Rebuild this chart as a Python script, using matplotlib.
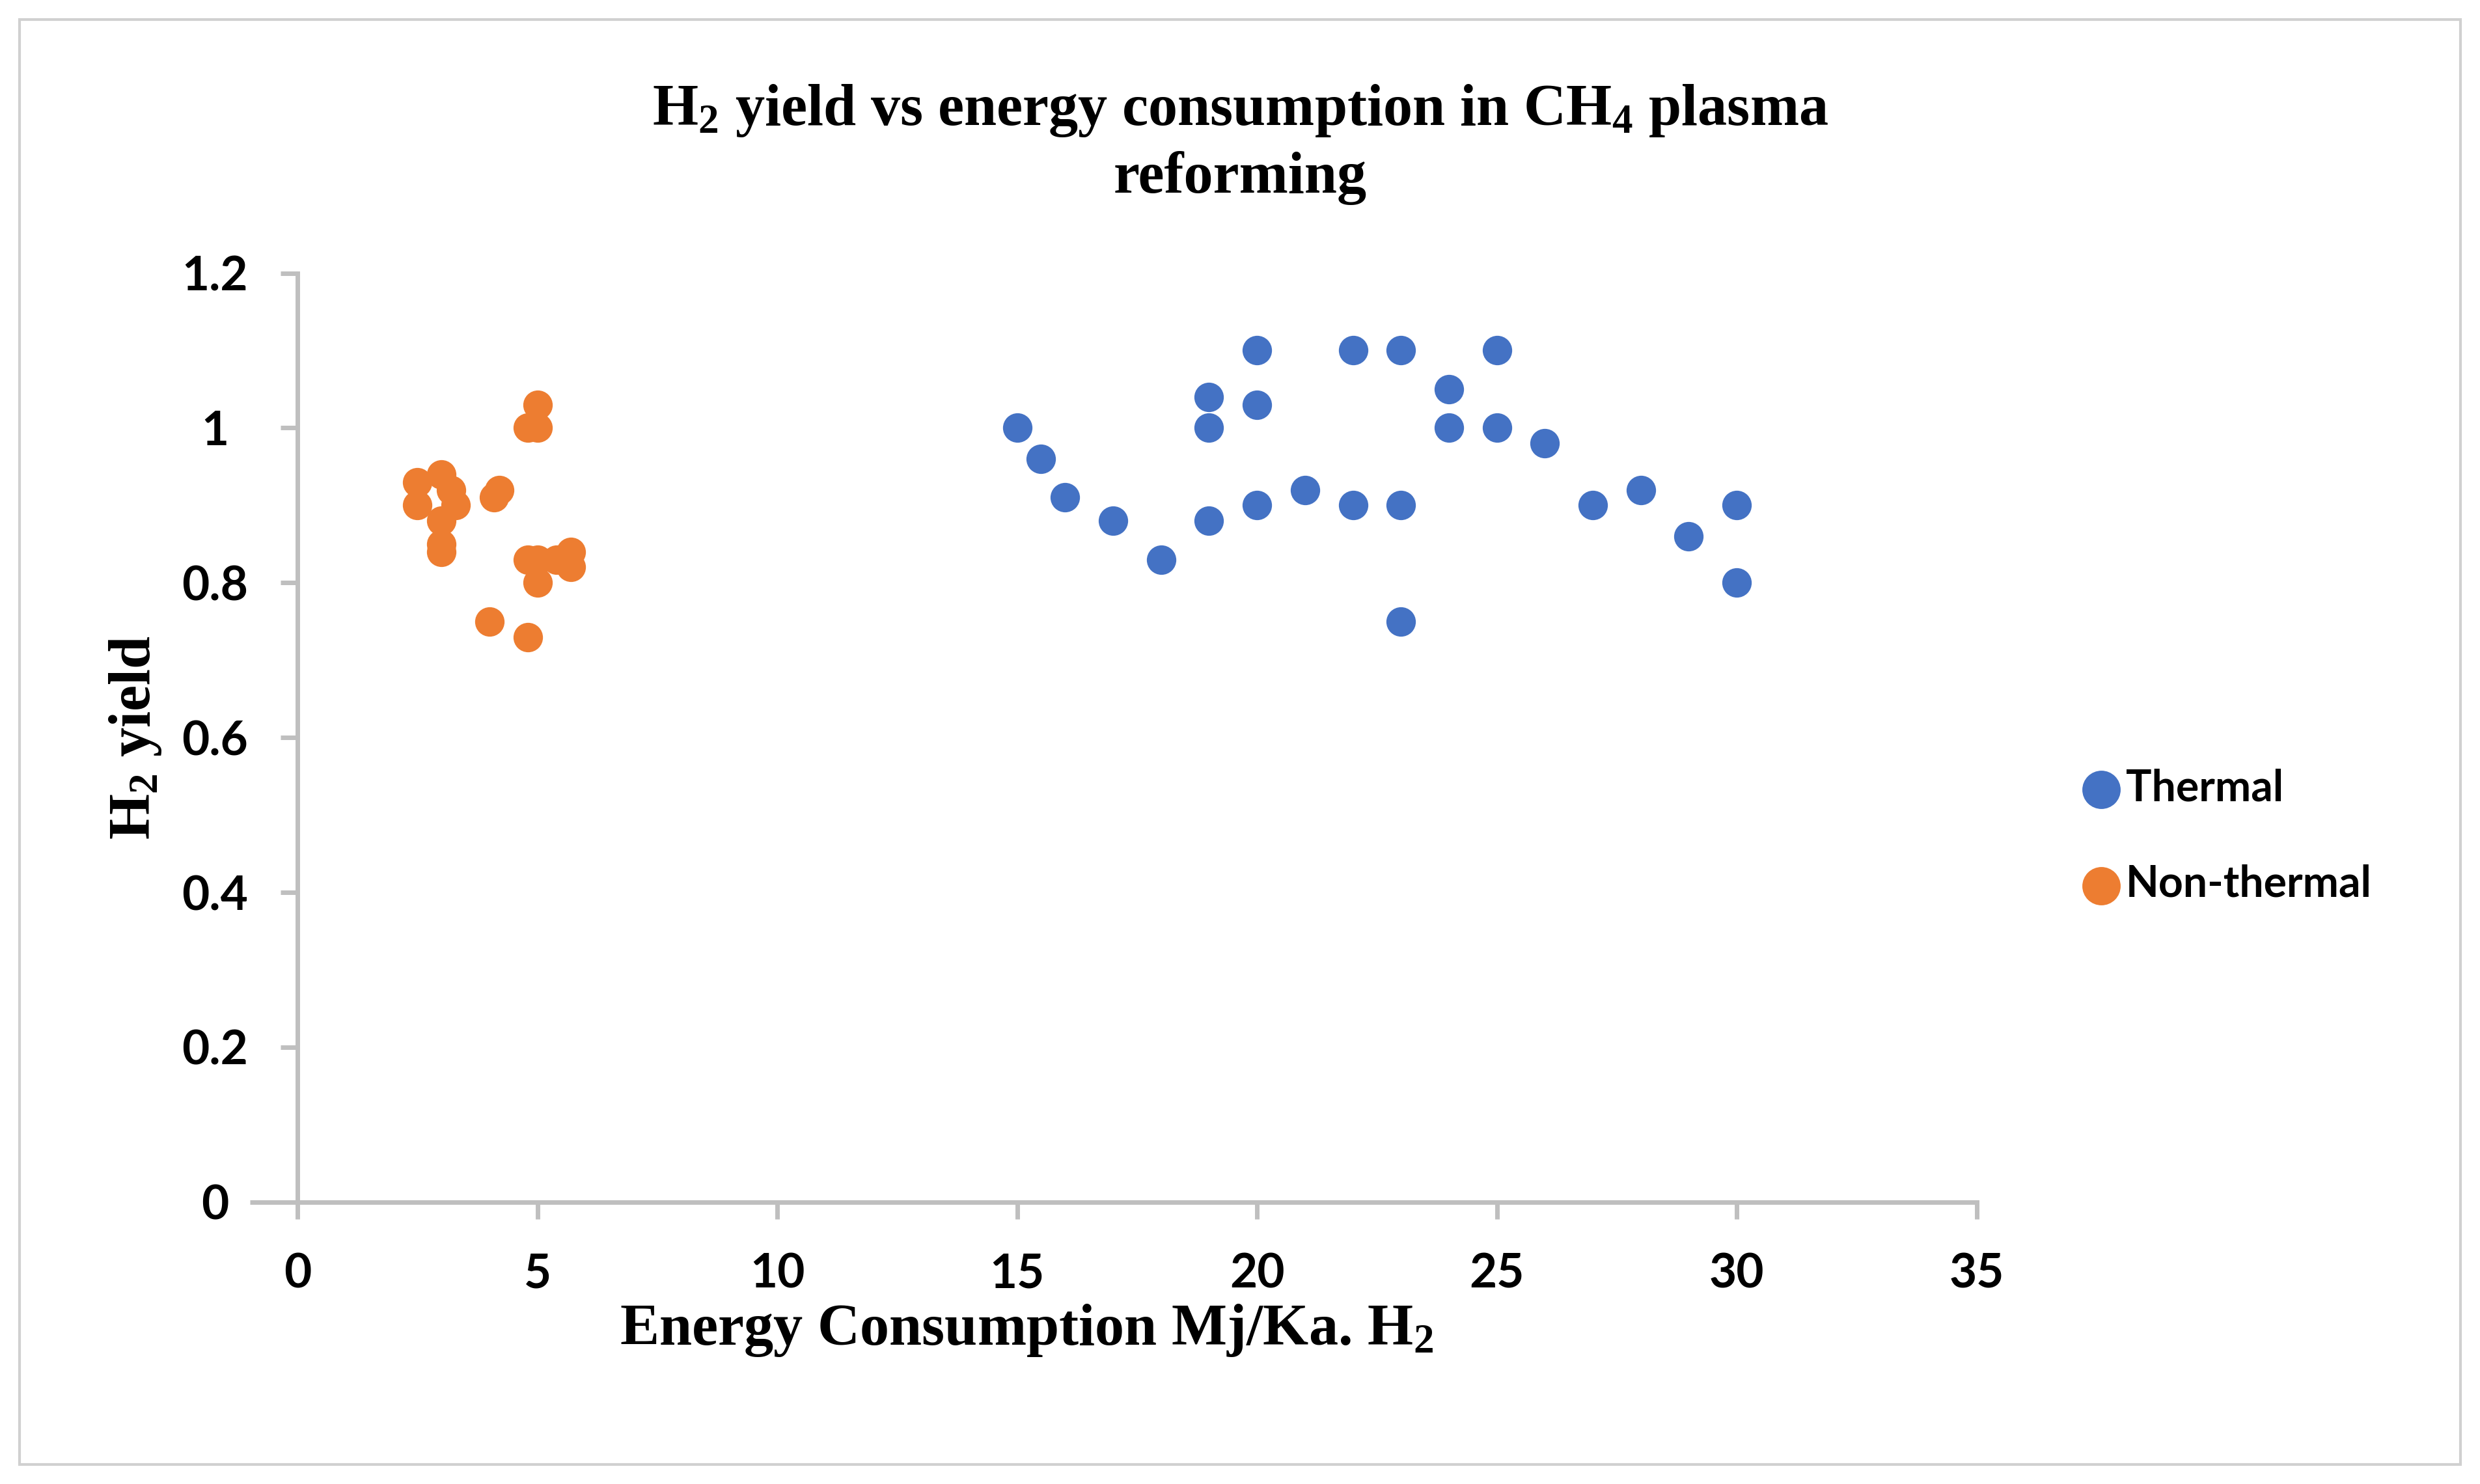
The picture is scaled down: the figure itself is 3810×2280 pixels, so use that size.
import matplotlib.pyplot as plt
plt.switch_backend('agg')
from matplotlib.patches import Rectangle

# data
thermal_x = [15, 15.5, 16, 17, 18, 19, 19, 19, 20, 20, 20, 21, 22, 22, 23, 23, 23,
             24, 24, 25, 25, 26, 27, 28, 29, 30, 30]
thermal_y = [1.0, 0.96, 0.91, 0.88, 0.83, 1.04, 1.0, 0.88, 1.1, 1.03, 0.9, 0.92, 1.1, 0.9,
             1.1, 0.9, 0.75, 1.05, 1.0, 1.1, 1.0, 0.98, 0.9, 0.92, 0.86, 0.9, 0.8]
nonthermal_x = [2.5, 3.0, 3.2, 2.5, 3.3, 3.0, 3.0, 3.0, 4.2, 4.1, 4.8, 5.0, 5.0, 5.4,
                5.7, 5.7, 4.0, 4.8, 5.0, 5.0, 4.8]
nonthermal_y = [0.93, 0.94, 0.92, 0.90, 0.90, 0.88, 0.85, 0.84, 0.92, 0.91, 0.83, 0.83, 0.80,
                0.83, 0.84, 0.82, 0.75, 0.73, 1.03, 1.0, 1.0]
x_ticks = [0, 5, 10, 15, 20, 25, 30, 35]
y_ticks = [0, 0.2, 0.4, 0.6, 0.8, 1, 1.2]
y_ticklabels = ['0', '0.2', '0.4', '0.6', '0.8', '1', '1.2']

serif = 'Liberation Serif'
sans = 'Lato'
plt.rcParams['mathtext.fontset'] = 'custom'
plt.rcParams['mathtext.rm'] = 'Liberation Serif:bold'
plt.rcParams['mathtext.it'] = 'Liberation Serif:bold'
plt.rcParams['mathtext.bf'] = 'Liberation Serif:bold'

fig = plt.figure(figsize=(15.24, 9.12), dpi=250)
fig.patches.append(Rectangle((0.008, 0.013), 0.984, 0.974, transform=fig.transFigure,
                             fill=False, edgecolor='#d0d0d0', linewidth=1.2))

ax = fig.add_axes([0.12, 0.19, 0.677, 0.626])
ax.scatter(thermal_x, thermal_y, s=170, color='#4472C4', label='Thermal', zorder=3, linewidths=0)
ax.scatter(nonthermal_x, nonthermal_y, s=170, color='#ED7D31', label='Non-thermal', zorder=3, linewidths=0)

ax.set_xlim(0, 35)
ax.set_ylim(0, 1.2)
ax.set_xticks(x_ticks)
ax.set_yticks(y_ticks)
ax.set_yticklabels(y_ticklabels)
for lab in ax.get_xticklabels() + ax.get_yticklabels():
    lab.set_fontfamily(sans)
    lab.set_fontweight('bold')
    lab.set_fontsize(21)
for lab in ax.get_yticklabels():
    lab.set_horizontalalignment('center')
ax.tick_params(length=7.5, width=2, color='#bfbfbf')
ax.tick_params(axis='x', pad=15)
ax.tick_params(axis='y', pad=29)
# the zero line runs a bit past the y axis, as in Excel
ax.yaxis.get_major_ticks()[0].tick1line.set_markersize(21)
for s in ['top', 'right']:
    ax.spines[s].set_visible(False)
for s in ['left', 'bottom']:
    ax.spines[s].set_color('#bfbfbf')
    ax.spines[s].set_linewidth(2)

ax.set_xlabel('Energy Consumption Mj/Ka. H$_2$', fontfamily=serif, fontweight='bold',
              fontsize=26)
ax.xaxis.set_label_coords(0.434, -0.108)
ax.set_ylabel('H$_2$ yield', fontfamily=serif, fontweight='bold', fontsize=26)
ax.yaxis.set_label_coords(-0.08, 0.5)

fig.text(0.5, 0.903, 'H$_2$ yield vs energy consumption in CH$_4$ plasma\nreforming',
         ha='center', va='center', fontfamily=serif, fontweight='bold', fontsize=26,
         linespacing=1.3)

leg = fig.legend(loc='center left', bbox_to_anchor=(0.8407, 0.4364), frameon=False,
                 prop={'family': sans, 'weight': 'bold', 'size': 19},
                 borderpad=0, borderaxespad=0, markerscale=1.3,
                 handletextpad=0.2, labelspacing=1.3, handlelength=0.75)

fig.savefig('out.png', dpi=250, facecolor='white')
